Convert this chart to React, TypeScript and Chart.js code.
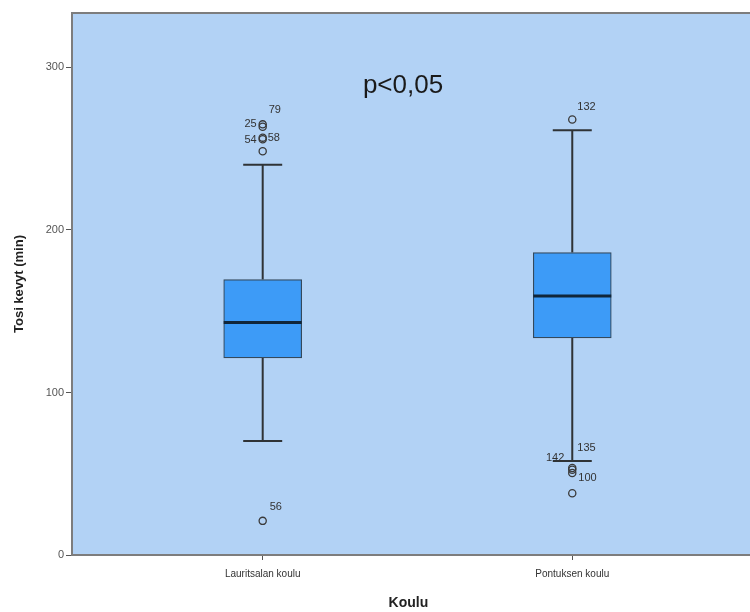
import React, { useEffect, useRef } from "react";
import { Chart, registerables } from "chart.js";

Chart.register(...registerables);

// ---- Data ----
const categories = ["Lauritsalan koulu", "Pontuksen koulu"];
const q1Values = [121.3, 133.6];
const medianValues = [143.0, 159.4];
const q3Values = [169.5, 186.1];
const whiskerLow = [70.1, 57.8];
const whiskerHigh = [240.2, 261.3];
const lauritsalanOutliers = [265, 263.5, 256.8, 255.8, 248.4, 21];
const lauritsalanIds = ["79", "25", "58", "54", "", "56"];
const pontuksenOutliers = [268, 53.5, 52.5, 50.5, 38];
const pontuksenIds = ["132", "142", "135", "100", ""];
const yTicks = [0, 100, 200, 300];
const annotationText = "p<0,05";

// ---- Label placement (style only) ----
const lauritsalanLabelPos: [number, number, CanvasTextAlign][] = [
  [6, -14, "left"],
  [-6, -3, "right"],
  [5, 0, "left"],
  [-6, 1, "right"],
  [0, 0, "left"],
  [7, -14, "left"],
];
const pontuksenLabelPos: [number, number, CanvasTextAlign][] = [
  [5, -12, "left"],
  [-8, -10, "right"],
  [5, -22, "left"],
  [6, 5, "left"],
  [0, 0, "left"],
];

const FONT = "'Liberation Sans', Arial, sans-serif";

export default function App() {
  const ref = useRef<HTMLCanvasElement | null>(null);

  useEffect(() => {
    document.body.style.margin = "0";
    const canvas = ref.current;
    if (!canvas) return;

    const outlierPoints = [
      ...lauritsalanOutliers.map((v) => ({ x: 1, y: v })),
      ...pontuksenOutliers.map((v) => ({ x: 2, y: v })),
    ];
    const outlierIds = [...lauritsalanIds, ...pontuksenIds];
    const outlierPos = [...lauritsalanLabelPos, ...pontuksenLabelPos];

    const boxPlugin = {
      id: "boxParts",
      beforeDraw(chart: any) {
        const { ctx, chartArea } = chart;
        ctx.save();
        ctx.fillStyle = "#b2d2f5";
        ctx.fillRect(chartArea.left, chartArea.top, chart.width - chartArea.left, chartArea.bottom - chartArea.top);
        ctx.restore();
      },
      beforeDatasetsDraw(chart: any) {
        const { ctx } = chart;
        const xs = chart.scales.x;
        const ys = chart.scales.y;
        ctx.save();
        ctx.strokeStyle = "#2f3336";
        ctx.lineWidth = 2;
        categories.forEach((_, i) => {
          const cx = xs.getPixelForValue(i + 1);
          const capHalf = 19.5;
          const yHi = ys.getPixelForValue(whiskerHigh[i]);
          const yLo = ys.getPixelForValue(whiskerLow[i]);
          const yQ3 = ys.getPixelForValue(q3Values[i]);
          const yQ1 = ys.getPixelForValue(q1Values[i]);
          ctx.beginPath();
          ctx.moveTo(cx, yQ3);
          ctx.lineTo(cx, yHi);
          ctx.moveTo(cx - capHalf, yHi);
          ctx.lineTo(cx + capHalf, yHi);
          ctx.moveTo(cx, yQ1);
          ctx.lineTo(cx, yLo);
          ctx.moveTo(cx - capHalf, yLo);
          ctx.lineTo(cx + capHalf, yLo);
          ctx.stroke();
        });
        ctx.restore();
      },
      afterDatasetsDraw(chart: any) {
        const { ctx, chartArea } = chart;
        const xs = chart.scales.x;
        const ys = chart.scales.y;
        ctx.save();
        // medians
        ctx.strokeStyle = "#10263a";
        ctx.lineWidth = 3;
        categories.forEach((_, i) => {
          const cx = xs.getPixelForValue(i + 1);
          const ym = ys.getPixelForValue(medianValues[i]);
          ctx.beginPath();
          ctx.moveTo(cx - 39, ym);
          ctx.lineTo(cx + 39, ym);
          ctx.stroke();
        });
        // outlier labels
        ctx.fillStyle = "#333";
        ctx.font = `11px ${FONT}`;
        ctx.textBaseline = "middle";
        outlierPoints.forEach((p, k) => {
          const id = outlierIds[k];
          if (!id) return;
          const [dx, dy, align] = outlierPos[k];
          ctx.textAlign = align;
          ctx.fillText(id, xs.getPixelForValue(p.x) + dx, ys.getPixelForValue(p.y) + dy);
        });
        // panel border (left, top, bottom)
        ctx.strokeStyle = "#7d7d7d";
        ctx.lineWidth = 2;
        ctx.beginPath();
        ctx.moveTo(chart.width, chartArea.top);
        ctx.lineTo(chartArea.left, chartArea.top);
        ctx.lineTo(chartArea.left, chartArea.bottom);
        ctx.lineTo(chart.width, chartArea.bottom);
        ctx.stroke();
        // annotation
        ctx.fillStyle = "#1a1a1a";
        ctx.font = `26px ${FONT}`;
        ctx.textAlign = "center";
        ctx.textBaseline = "middle";
        ctx.fillText(annotationText, 403, 86);
        ctx.restore();
      },
    };

    const chart = new Chart(canvas, {
      type: "bar",
      data: {
        datasets: [
          {
            type: "bar",
            data: categories.map((_, i) => ({ x: i + 1, y: [q1Values[i], q3Values[i]] })) as any,
            backgroundColor: "#3d9bf7",
            borderColor: "#34495c",
            borderWidth: 1.2,
            borderSkipped: false,
            barThickness: 78,
          } as any,
          {
            type: "scatter",
            data: outlierPoints,
            pointRadius: 3.6,
            pointBackgroundColor: "rgba(0,0,0,0)",
            pointBorderColor: "#3a3a3a",
            pointBorderWidth: 1.3,
            showLine: false,
          } as any,
        ],
      },
      options: {
        animation: false,
        responsive: false,
        maintainAspectRatio: false,
        layout: { padding: { top: 13, right: 0, bottom: 0, left: 0 } },
        plugins: { legend: { display: false }, tooltip: { enabled: false } },
        scales: {
          x: {
            type: "linear",
            offset: false,
            min: 0.384,
            max: 2.557,
            afterBuildTicks: (scale: any) => {
              scale.ticks = categories.map((_, i) => ({ value: i + 1 }));
            },
            afterFit: (scale: any) => {
              scale.height = 57;
              scale.paddingLeft = 0;
              scale.paddingRight = 0;
            },
            grid: { offset: false, drawOnChartArea: false, drawTicks: true, tickLength: 5, color: "#555" },
            border: { display: false },
            ticks: {
              color: "#333",
              font: { family: FONT, size: 10 },
              padding: 8,
              autoSkip: false,
              maxRotation: 0,
              callback: (v: any) => {
                const idx = Math.round(Number(v)) - 1;
                return categories[idx] ?? "";
              },
            },
            title: {
              display: true,
              text: "Koulu",
              color: "#222",
              font: { family: FONT, size: 14, weight: "bold" },
              padding: { top: 8, bottom: 0 },
            },
          },
          y: {
            type: "linear",
            min: 0,
            max: 333.5,
            afterBuildTicks: (scale: any) => {
              scale.ticks = yTicks.map((v) => ({ value: v }));
            },
            afterFit: (scale: any) => {
              scale.width = 72;
            },
            grid: { drawOnChartArea: false, drawTicks: true, tickLength: 6, color: "#555" },
            border: { display: false },
            ticks: {
              color: "#555",
              font: { family: FONT, size: 11 },
              padding: 2,
            },
            title: {
              display: true,
              text: "Tosi kevyt (min)",
              color: "#222",
              font: { family: FONT, size: 13, weight: "bold" },
              padding: { top: 12, bottom: 6 },
            },
          },
        },
      },
      plugins: [boxPlugin],
    });

    return () => chart.destroy();
  }, []);

  return (
    <div style={{ position: "relative", width: 750, height: 612, background: "#ffffff" }}>
      <canvas ref={ref} width={750} height={612} style={{ display: "block", width: 750, height: 612 }} />
    </div>
  );
}
